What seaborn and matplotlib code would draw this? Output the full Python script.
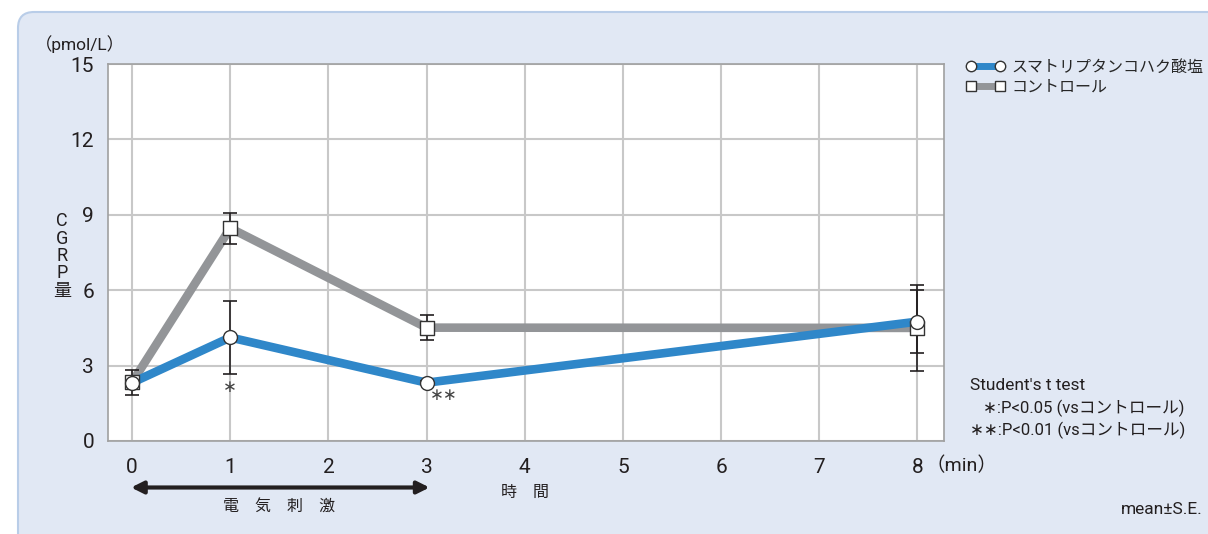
import matplotlib
matplotlib.use("Agg")
import matplotlib.pyplot as plt
import seaborn as sns
import pandas as pd
from matplotlib.patches import FancyBboxPatch
from matplotlib.transforms import IdentityTransform
from matplotlib.lines import Line2D

# ---- data (CGRP, pmol/L, mean ± S.E.) ----
time_min = [0, 1, 3, 8]
suma_mean = [2.32, 4.12, 2.32, 4.75]
suma_se = [0.10, 1.45, 0.05, 1.25]
ctrl_mean = [2.33, 8.47, 4.51, 4.50]
ctrl_se = [0.50, 0.62, 0.50, 1.72]
series_names = ["スマトリプタンコハク酸塩", "コントロール"]
y_ticks = [0, 3, 6, 9, 12, 15]
x_ticks = [0, 1, 2, 3, 4, 5, 6, 7, 8]

BLUE = "#2F87C9"
GRAY = "#939598"
CARD = "#E1E8F4"
CARD_EDGE = "#B9CDE8"
TXT = "#231F20"

sns.set_theme(style="white")
FONT = ["Roboto", "Noto Sans CJK JP", "DejaVu Sans"]
plt.rcParams["font.family"] = FONT

df = pd.DataFrame({
    "time": time_min * 2,
    "value": suma_mean + ctrl_mean,
    "se": suma_se + ctrl_se,
    "group": [series_names[0]] * 4 + [series_names[1]] * 4,
})

fig = plt.figure(figsize=(12.08, 5.34), dpi=100)
fig.patch.set_facecolor("white")

# rounded background card
card = FancyBboxPatch((18, -30), 1400, 534 - 12 + 30,
                      boxstyle="round,pad=0,rounding_size=16",
                      transform=IdentityTransform(), facecolor=CARD,
                      edgecolor=CARD_EDGE, linewidth=1.5, zorder=-5)
fig.patches.append(card)

ax = fig.add_axes([108 / 1208, 1 - 441 / 534, (944 - 108) / 1208, (441 - 64) / 534])
ax.set_zorder(2)
ax.set_facecolor("white")

sub_s = df[df.group == series_names[0]]
sub_c = df[df.group == series_names[1]]

# lines
sns.lineplot(data=sub_c, x="time", y="value", color=GRAY, linewidth=6.2,
             ax=ax, zorder=3, legend=False, solid_capstyle="butt")
sns.lineplot(data=sub_s, x="time", y="value", color=BLUE, linewidth=6.2,
             ax=ax, zorder=4, legend=False, solid_capstyle="butt")

# error bars
for sub in (sub_c, sub_s):
    ax.errorbar(sub["time"], sub["value"], yerr=sub["se"], fmt="none",
                ecolor=TXT, elinewidth=1.2, capsize=4.8, capthick=1.2, zorder=5)

# markers
sns.scatterplot(data=sub_c, x="time", y="value", marker="s", s=90,
                color="white", edgecolor="#333333", linewidth=1.0, ax=ax,
                zorder=6, legend=False)
sns.scatterplot(data=sub_s, x="time", y="value", marker="o", s=100,
                color="white", edgecolor="#333333", linewidth=1.0, ax=ax,
                zorder=7, legend=False)

ax.set_xlim(-0.245, 8.27)
ax.set_ylim(0, 15)
ax.set_xticks(x_ticks)
ax.set_yticks(y_ticks)
ax.set_xticklabels([str(t) for t in x_ticks])
ax.set_yticklabels([str(t) for t in y_ticks])
ax.tick_params(axis="both", length=0, labelsize=15, colors=TXT)
ax.tick_params(axis="x", pad=12)
ax.tick_params(axis="y", pad=10)
ax.grid(True, color="#C8C8C8", linewidth=1.5)
ax.set_axisbelow(True)
for sp in ax.spines.values():
    sp.set_color("#A0A0A0")
    sp.set_linewidth(1.2)
ax.set_xlabel("")
ax.set_ylabel("")

# significance marks
ax.text(1, 2.15, "∗", ha="center", va="center", fontsize=12, color="#444444",
        family=["DejaVu Sans"], zorder=8)
ax.text(3.17, 1.85, "∗∗", ha="center", va="center", fontsize=12, color="#444444",
        family=["DejaVu Sans"], zorder=8)

# stimulation arrow below axis
ax.annotate("", xy=(-0.01, -1.85), xytext=(3.03, -1.85), xycoords="data",
            arrowprops=dict(arrowstyle="<|-|>", color=TXT, lw=3.0,
                            mutation_scale=18, shrinkA=0, shrinkB=0),
            annotation_clip=False)
ax.text(1.5, -2.65, "電　気　刺　激", ha="center", va="center",
        fontsize=11.5, color=TXT, family=["Noto Sans CJK JP"], clip_on=False)
ax.text(4.0, -2.05, "時　間", ha="center", va="center",
        fontsize=11.5, color=TXT, family=["Noto Sans CJK JP"], clip_on=False)
ax.text(8.08, -1.0, "（min）", ha="left", va="center", fontsize=14, color=TXT,
        clip_on=False)

# y unit and label
fig.text(35 / 1208, 1 - 44 / 534, "（pmol/L）", ha="left", va="center",
         fontsize=12.5, color=TXT)
fig.text(62 / 1208, 1 - 256 / 534, "C\nG\nR\nP\n量", ha="center", va="center",
         fontsize=13, color=TXT, linespacing=0.95)

# legend
handles = [
    Line2D([], [], color=BLUE, lw=5, marker="o", ms=7.5, mfc="white",
           mec="#333333", mew=1.0),
    Line2D([], [], color=GRAY, lw=5, marker="s", ms=7.5, mfc="white",
           mec="#333333", mew=1.0),
]
fig.legend(handles, series_names, loc="upper left",
           bbox_to_anchor=(966 / 1208, 1 - 60 / 534), frameon=False,
           numpoints=2, handlelength=2.4, handletextpad=0.45, labelspacing=0.3,
           fontsize=11.5, borderaxespad=0, borderpad=0)

# notes
fig.text(970 / 1208, 1 - 385 / 534, "Student's t test", ha="left", va="center",
         fontsize=12.5, color=TXT)
fig.text(983 / 1208, 1 - 408 / 534, "∗:P<0.05 (vsコントロール)", ha="left",
         va="center", fontsize=12, color=TXT)
fig.text(970 / 1208, 1 - 430 / 534, "∗∗:P<0.01 (vsコントロール)", ha="left",
         va="center", fontsize=12, color=TXT)
fig.text(1203 / 1208, 1 - 510 / 534, "mean±S.E.", ha="right", va="center",
         fontsize=12.5, color=TXT)

fig.savefig("out.png", dpi=100, facecolor=fig.get_facecolor())
